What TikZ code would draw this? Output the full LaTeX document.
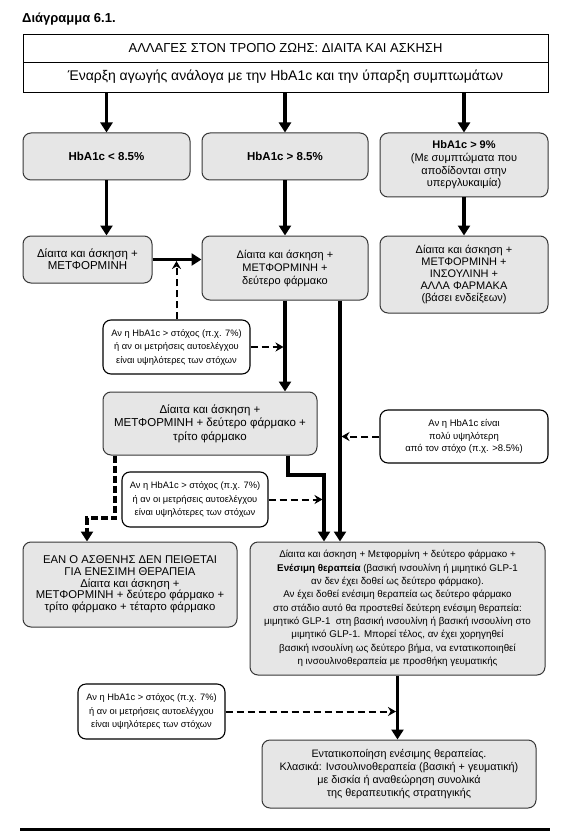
\documentclass[tikz,border=0pt]{standalone}
\usepackage{fontspec}
\setmainfont{Liberation Sans}
\usetikzlibrary{arrows.meta}

\definecolor{boxgray}{RGB}{230,230,230}
\definecolor{boxline}{RGB}{55,55,55}

\tikzset{
    gbox/.style={draw=boxline,fill=boxgray,rounded corners=8pt,line width=1pt,align=center,inner sep=0pt},
    nbox/.style={draw=black,fill=white,rounded corners=8pt,line width=1.1pt,align=center,inner sep=0pt,font=\fontsize{9.3}{13.5}\selectfont},
    thickarrow/.style={line width=3.5pt,-{Triangle[width=12pt,length=10pt]}},
    dasharrow/.style={line width=2pt,dash pattern=on 7pt off 4pt,-{Stealth[width=9pt,length=8pt]}},
    heavydash/.style={line width=3.5pt,dash pattern=on 7pt off 3pt,-{Triangle[width=12pt,length=10pt]}}
}

\begin{document}
\begin{tikzpicture}[x=1pt,y=-1pt]

    \fill[white] (0,0) rectangle (560,834);
    \useasboundingbox (0,0) rectangle (560,834);

    \node[anchor=base west,inner sep=0pt,font=\fontsize{13}{15}\selectfont\bfseries] (0) at (22,23) {Διάγραμμα 6.1.};

    % top box
    \begin{scope}[every node/.style={draw,line width=0.9pt,minimum width=525pt,inner sep=0pt}]
        \node[minimum height=28pt,font=\fontsize{13}{15}\selectfont] (1) at (285.5,48) {ΑΛΛΑΓΕΣ ΣΤΟΝ ΤΡΟΠΟ ΖΩΗΣ: ΔΙΑΙΤΑ ΚΑΙ ΑΣΚΗΣΗ};
        \node[minimum height=30pt,font=\fontsize{14}{16}\selectfont] (2) at (285.5,77) {Έναρξη αγωγής ανάλογα με την HbA1c και την ύπαρξη συμπτωμάτων};
    \end{scope}

    % grey boxes
    \begin{scope}[every node/.style={gbox,font=\fontsize{11}{12.7}\selectfont}]
        \node[minimum width=167pt,minimum height=47pt,font=\fontsize{11.5}{13}\selectfont] (3) at (106.5,156.5) {\textbf{HbA1c < 8.5\%}};
        \node[minimum width=166pt,minimum height=47pt,font=\fontsize{11.5}{13}\selectfont] (4) at (285,156.5) {\textbf{HbA1c > 8.5\%}};
        \node[minimum width=168pt,minimum height=64pt] (5) at (464,165) {\textbf{HbA1c > 9\%}\\(Με συμπτώματα που\\αποδίδονται στην\\υπεργλυκαιμία)};
        \node[minimum width=129pt,minimum height=47pt,font=\fontsize{11.5}{12}\selectfont] (6) at (87.5,259.5) {Δίαιτα και άσκηση +\\ΜΕΤΦΟΡΜΙΝΗ};
        \node[minimum width=166pt,minimum height=64pt,font=\fontsize{11}{13}\selectfont] (7) at (285,268) {Δίαιτα και άσκηση +\\ΜΕΤΦΟΡΜΙΝΗ +\\δεύτερο φάρμακο};
        \node[minimum width=168pt,minimum height=77pt,font=\fontsize{11}{12}\selectfont] (8) at (464,274.5) {Δίαιτα και άσκηση +\\ΜΕΤΦΟΡΜΙΝΗ +\\ΙΝΣΟΥΛΙΝΗ +\\ΑΛΛΑ ΦΑΡΜΑΚΑ\\(βάσει ενδείξεων)};
        \node[minimum width=214pt,minimum height=63pt,font=\fontsize{11.5}{13.5}\selectfont] (10) at (210,423.5) {Δίαιτα και άσκηση +\\ΜΕΤΦΟΡΜΙΝΗ + δεύτερο φάρμακο +\\τρίτο φάρμακο};
        \node[minimum width=214pt,minimum height=85pt,font=\fontsize{11.3}{11.7}\selectfont] (13) at (130,584.5) {ΕΑΝ Ο ΑΣΘΕΝΗΣ ΔΕΝ ΠΕΙΘΕΤΑΙ\\ΓΙΑ ΕΝΕΣΙΜΗ ΘΕΡΑΠΕΙΑ\\Δίαιτα και άσκηση +\\ΜΕΤΦΟΡΜΙΝΗ + δεύτερο φάρμακο +\\τρίτο φάρμακο + τέταρτο φάρμακο};
        \node[minimum width=295pt,minimum height=133pt,font=\fontsize{9.8}{13.3}\selectfont] (14) at (397.5,608.5) {Δίαιτα και άσκηση + Μετφορμίνη + δεύτερο φάρμακο +\\\textbf{Ενέσιμη θεραπεία} (βασική ινσουλίνη ή μιμητικό GLP-1\\αν δεν έχει δοθεί ως δεύτερο φάρμακο).\\Αν έχει δοθεί ενέσιμη θεραπεία ως δεύτερο φάρμακο\\στο στάδιο αυτό θα προστεθεί δεύτερη ενέσιμη θεραπεία:\\μιμητικό GLP-1\ \ στη βασική ινσουλίνη ή βασική ινσουλίνη στο\\μιμητικό GLP-1. Μπορεί τέλος, αν έχει χορηγηθεί\\βασική ινσουλίνη ως δεύτερο βήμα, να εντατικοποιηθεί\\η ινσουλινοθεραπεία με προσθήκη γευματικής};
        \node[minimum width=274pt,minimum height=68pt,font=\fontsize{10.8}{13.3}\selectfont] (16) at (399,774) {Εντατικοποίηση ενέσιμης θεραπείας.\\Κλασικά: Ινσουλινοθεραπεία (βασική + γευματική)\\με δισκία ή αναθεώρηση συνολικά\\της θεραπευτικής στρατηγικής};
    \end{scope}

    % white notes
    \begin{scope}[every node/.style={nbox}]
        \node[minimum width=147pt,minimum height=54pt] (9) at (176.5,347) {Αν η HbA1c > στόχος (π.χ. 7\%)\\ή αν οι μετρήσεις αυτοελέγχου\\είναι υψηλότερες των στόχων};
        \node[minimum width=168pt,minimum height=53pt,font=\fontsize{9.5}{12.5}\selectfont] (11) at (464,436.5) {Αν η HbA1c είναι\\πολύ υψηλότερη\\από τον στόχο (π.χ. >8.5\%)};
        \node[minimum width=146pt,minimum height=55pt] (12) at (195,499.5) {Αν η HbA1c > στόχος (π.χ. 7\%)\\ή αν οι μετρήσεις αυτοελέγχου\\είναι υψηλότερες των στόχων};
        \node[minimum width=147pt,minimum height=55pt] (15) at (151.5,711.5) {Αν η HbA1c > στόχος (π.χ. 7\%)\\ή αν οι μετρήσεις αυτοελέγχου\\είναι υψηλότερες των στόχων};
    \end{scope}

    % main arrows
    \begin{scope}[every edge/.style={draw,thickarrow}]
        \path (2.south -| 3.north) edge (3.north);
        \path (2.south -| 4.north) edge (4.north);
        \path (2.south -| 5.north) edge (5.north);
        \path (3.south) edge (3.south |- 6.north);
        \path (4.south) edge (7.north);
        \path (5.south) edge (8.north);
        \path (6.east) edge (6.east -| 7.west);
        \path (7.south) edge (7.south |- 10.north);
        \path (7.south -| 340,0) edge (340,0 |- 14.north);
        \path (14.south) edge (14.south |- 16.north);
    \end{scope}
    \draw[thickarrow] (10.south -| 288,0) -- (288,475) -- (324,475) -- (324,0 |- 14.north);

    % dashed arrows
    \begin{scope}[every edge/.style={draw,dasharrow,shorten >=1.5pt}]
        \path (9.north) edge (9.north |- 6.east);
        \path (9.east) edge (9.east -| 7.south);
        \path (11.west) edge (11.west -| 340,0);
        \path (12.east) edge (12.east -| 324,0);
        \path (15.east) edge (15.east -| 14.south);
    \end{scope}
    \draw[heavydash] (10.south -| 115,0) -- (115,518) -- (87,518) -- (87,0 |- 13.north);

    \draw[line width=3pt] (20,829) -- (550,829);

\end{tikzpicture}
\end{document}
